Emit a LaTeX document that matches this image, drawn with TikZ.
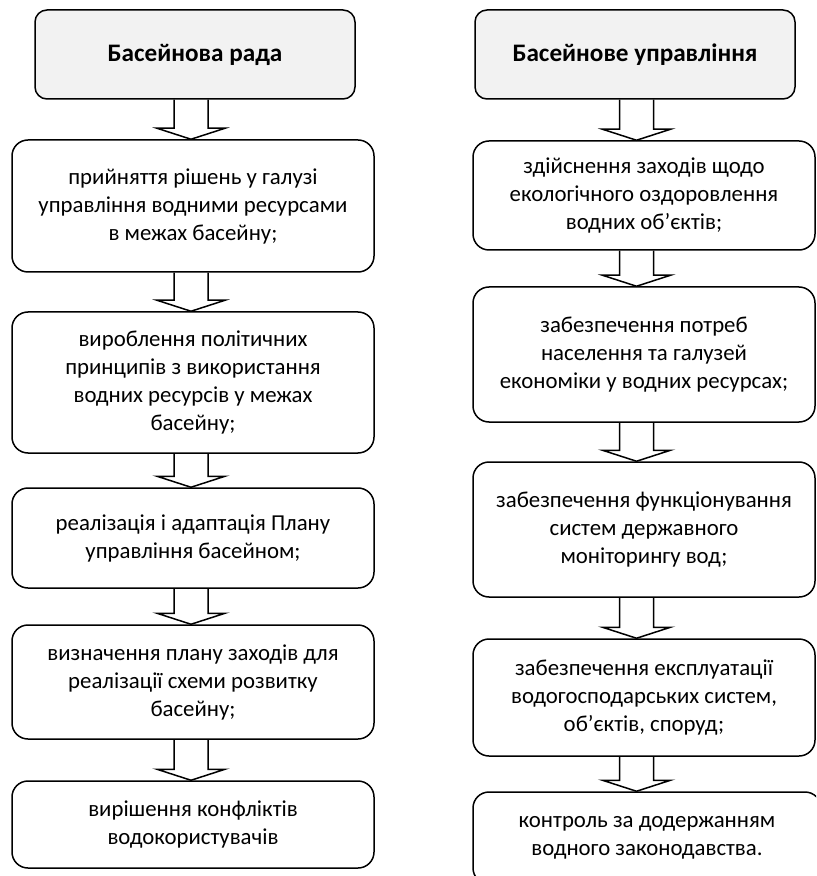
\documentclass[tikz,border=0pt]{standalone}
\usepackage{fontspec}
\setmainfont{Carlito}
\usetikzlibrary{calc}

\definecolor{headgray}{HTML}{F2F2F2}

% hollow block arrow from box #1 to box #2 on the axis #3
\newcommand{\flowarrow}[3]{%
  \path (#1.south -| #3) coordinate (s) (#2.north -| #3) coordinate (t);
  \draw[arrowline] ($(s)+(-17,0)$) -- ($(t)+(-17,-11)$) -- ($(t)+(-34,-11)$) -- (t)
    -- ($(t)+(34,-11)$) -- ($(t)+(17,-11)$) -- ($(s)+(17,0)$);
}

\begin{document}
\begin{tikzpicture}[x=0.5pt,y=-0.5pt,
    box/.style={draw, line width=0.75pt, rounded corners=8pt, align=center,
      font=\fontsize{11.4}{14}\selectfont, inner sep=2pt},
    headbox/.style={box, fill=headgray, rounded corners=6pt,
      font=\fontsize{12.6}{15}\selectfont\bfseries, minimum width=160pt, minimum height=44.5pt},
    leftbox/.style={box, minimum width=181pt},
    rightbox/.style={box, minimum width=171pt},
    arrowline/.style={line width=0.75pt, line join=miter}]
    \useasboundingbox (0,0) rectangle (816,876);
    \clip (0,0) rectangle (816,876);

    % axes of the two columns
    \coordinate (axL) at (191,0);
    \coordinate (axR) at (636.5,0);

    % Basin council
    \node[headbox] (hdrL) at (195,54.5) {Басейнова рада};
    \node[leftbox, minimum height=66pt] (L1) at (193,206)
      {прийняття рішень у галузі\\управління водними ресурсами\\в межах басейну;};
    \node[leftbox, minimum height=70.5pt] (L2) at (193,382.5)
      {вироблення політичних\\принципів з використання\\водних ресурсів у межах\\басейну;};
    \node[leftbox, minimum height=50pt] (L3) at (193,538)
      {реалізація і адаптація Плану\\управління басейном;};
    \node[leftbox, minimum height=57pt] (L4) at (193,682)
      {визначення плану заходів для\\реалізації схеми розвитку\\басейну;};
    \node[leftbox, minimum height=43.5pt] (L5) at (193,824.5)
      {вирішення конфліктів\\водокористувачів};

    % Basin administration
    \node[headbox] (hdrR) at (635,54.5) {Басейнове управління};
    \node[rightbox, minimum height=54.5pt] (R1) at (644,195.5)
      {здійснення заходів щодо\\екологічного оздоровлення\\водних об’єктів;};
    \node[rightbox, minimum height=67.5pt] (R2) at (644,354.5)
      {забезпечення потреб\\населення та галузей\\економіки у водних ресурсах;};
    \node[rightbox, minimum height=67.5pt] (R3) at (644,529.5)
      {забезпечення функціонування\\систем державного\\моніторингу вод;};
    \node[rightbox, minimum height=58.5pt] (R4) at (644,697.5)
      {забезпечення експлуатації\\водогосподарських систем,\\об’єктів, споруд;};
    \node[rightbox, minimum width=174pt, minimum height=46pt] (R5) at (647,838)
      {контроль за додержанням\\водного законодавства.};

    % arrows, left column
    \flowarrow{hdrL}{L1}{axL}
    \flowarrow{L1}{L2}{axL}
    \flowarrow{L2}{L3}{axL}
    \flowarrow{L3}{L4}{axL}
    \flowarrow{L4}{L5}{axL}

    % arrows, right column
    \flowarrow{hdrR}{R1}{axR}
    \flowarrow{R1}{R2}{axR}
    \flowarrow{R2}{R3}{axR}
    \flowarrow{R3}{R4}{axR}
    \flowarrow{R4}{R5}{axR}
\end{tikzpicture}
\end{document}
